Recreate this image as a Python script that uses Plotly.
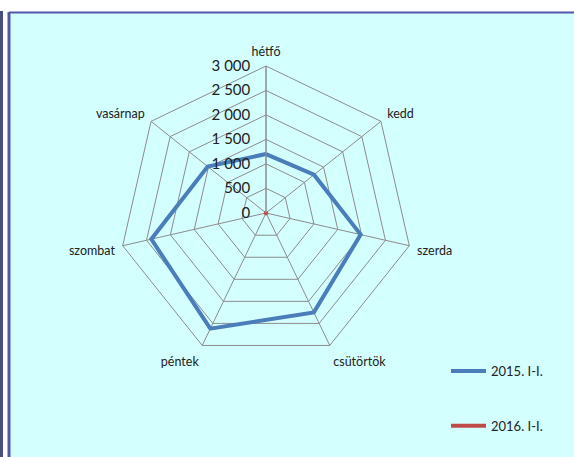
import plotly.graph_objects as go

days = ["hétfő", "kedd", "szerda", "csütörtök", "péntek", "szombat", "vasárnap"]
y2015 = [1200, 1250, 1980, 2250, 2620, 2400, 1520]
y2016 = [0, 0, 0, 0, 0, 0, 0]
series_names = ["2015. I-I.", "2016. I-I."]

blue = "#4A7EBB"
red = "#BE4B48"
grid = "#8C8C8C"
W, H = 574, 457

fig = go.Figure()
# closed polygons
fig.add_trace(go.Scatterpolar(r=y2015 + y2015[:1], theta=days + days[:1], mode="lines",
                              line=dict(color=blue, width=4), name=series_names[0],
                              legendgroup="a"))
fig.add_trace(go.Scatterpolar(r=y2016 + y2016[:1], theta=days + days[:1], mode="lines",
                              line=dict(color=red, width=4), name=series_names[1],
                              legendgroup="b"))
# the zero series collapses to a dot in the middle
fig.add_trace(go.Scatterpolar(r=y2016, theta=days, mode="markers",
                              marker=dict(color=red, size=7, symbol="square"),
                              showlegend=False, hoverinfo="skip"))

cx, cy, rad = 266, 213, 147
fig.update_layout(
    width=W, height=H,
    margin=dict(l=0, r=0, t=0, b=0),
    paper_bgcolor="white",
    separators=", ",
    font=dict(family="Lato, Open Sans, sans-serif", color="#222222"),
    polar=dict(
        domain=dict(x=[(cx - rad) / W, (cx + rad) / W],
                    y=[(H - cy - rad) / H, (H - cy + rad) / H]),
        bgcolor="rgba(0,0,0,0)",
        gridshape="linear",
        angularaxis=dict(rotation=90, direction="clockwise", categoryorder="array",
                         categoryarray=days, showline=True, linecolor=grid, linewidth=1,
                         gridcolor=grid, gridwidth=1,
                         ticks="outside", ticklen=5, tickcolor="rgba(0,0,0,0)",
                         tickfont=dict(size=12.5)),
        # start a hair below zero so the all-zero series still gets drawn
        radialaxis=dict(range=[-4, 3000], tickvals=[0, 500, 1000, 1500, 2000, 2500, 3000],
                        tickformat=",d", angle=90,
                        tickangle=90, side="counterclockwise", showline=True,
                        linecolor=grid, gridcolor=grid, gridwidth=1,
                        ticks="outside", ticklen=10, tickcolor="rgba(0,0,0,0)",
                        tickfont=dict(size=15)),
    ),
    legend=dict(x=446 / W, y=1 - 356 / H, xanchor="left", yanchor="top",
                bgcolor="rgba(0,0,0,0)", font=dict(size=13),
                traceorder="grouped", tracegroupgap=35, itemwidth=35),
    shapes=[
        dict(type="rect", xref="paper", yref="paper", x0=9 / W, x1=1.01,
             y0=-0.01, y1=1 - 13 / H, fillcolor="#D4FFFF", line=dict(width=0), layer="below"),
        dict(type="line", xref="paper", yref="paper", x0=9 / W, x1=1.01,
             y0=1 - 12.5 / H, y1=1 - 12.5 / H, line=dict(color="#5257A8", width=2)),
        dict(type="line", xref="paper", yref="paper", x0=9 / W, x1=9 / W,
             y0=-0.01, y1=1 - 12 / H, line=dict(color="#5257A8", width=3)),
        dict(type="line", xref="paper", yref="paper", x0=1.5 / W, x1=1.5 / W,
             y0=-0.01, y1=1 - 11 / H, line=dict(color="#4A4E7E", width=3)),
    ],
)

# drop the page's default body margin so the figure sits at the window corner
fig.write_html("out.html", config={"displayModeBar": False},
               post_script="document.body.style.margin='0';")
